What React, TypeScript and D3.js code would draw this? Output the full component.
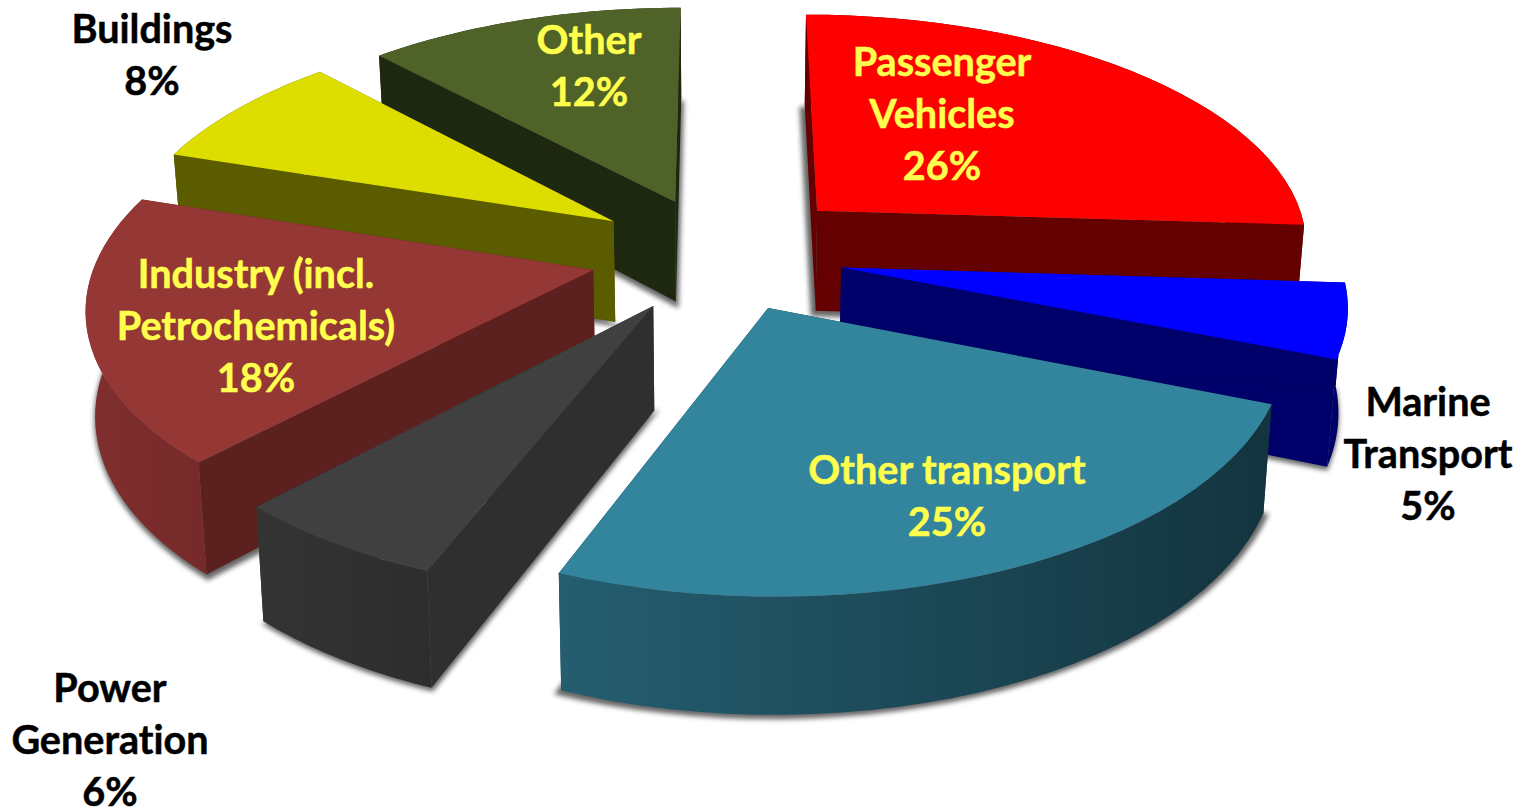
import React from "react";
import * as d3 from "d3";

// Share of each sector, clockwise from twelve o'clock.
const sectors = ["Passenger Vehicles", "Marine Transport", "Other transport", "Power Generation", "Industry", "Buildings", "Other"];
const shares = [26, 5, 25, 6, 18, 8, 12];

// Label lines for each sector.
const labelLines = [
  ["Passenger", "Vehicles", "26%"],
  ["Marine", "Transport", "5%"],
  ["Other transport", "25%"],
  ["Power", "Generation", "6%"],
  ["Industry (incl.", "Petrochemicals)", "18%"],
  ["Buildings", "8%"],
  ["Other", "12%"],
];

const WIDTH = 1529;
const HEIGHT = 809;

// Back-to-front paint order of the sectors.
const paintOrder = [0, 1, 2, 6, 5, 4, 3];

// Face colours per sector: top, radial walls, rim gradient ends.
const topColors = ["#fe0000", "#0000ff", "#33849d", "#404040", "#953735", "#dddd00", "#4f6228"];
const wallColors = ["#640000", "#00006a", "#143640", "#2f2f2f", "#5c201f", "#5b5b00", "#1e2710"];
const rimLeft = ["#640000", "#00006a", "#255e70", "#343434", "#7f2f2e", "#5b5b00", "#1e2710"];
const rimRight = ["#640000", "#00006a", "#13343e", "#2d2d2d", "#752a29", "#5b5b00", "#1e2710"];

// Label anchors: centre x and first baseline, with colour per sector.
const labelX = [942, 1428, 947, 110, 256, 152, 589];
const labelY = [76, 416, 484, 702, 288, 43, 54];
const labelColor = ["#ffff4d", "#000", "#ffff4d", "#000", "#ffff4d", "#000", "#ffff4d"];
const LINE_HEIGHT = 52;

// Camera model for the tilted disc.
const CX = 722;
const CY = 248.5;
const RADIUS_X = 494;
const RADIUS_Y = 232;
const PERSPECTIVE = 0.135;
const EXPLODE = 0.27;
const THICKNESS = 102;
const FOOT_SHRINK = 0.985;

// Small in-plane shift of each pulled-out sector.
const nudgeX = [0, -0.025, -0.017, 0.01, 0.004, 0.005, 0.002];
const nudgeY = [0.018, 0.022, 0, 0.012, 0.024, 0.025, 0.044];

type Pt = [number, number];

// Project a point of the disc plane (x right, y toward the viewer); z=1 is the underside.
function project(x: number, y: number, z: number): Pt {
  const w = 1 - PERSPECTIVE * y;
  const sx = (RADIUS_X * x) / w;
  const sy = (RADIUS_Y * y) / w;
  const depth = z * (THICKNESS / Math.pow(w, 0.8));
  const shrink = z ? FOOT_SHRINK : 1;
  return [CX + sx * shrink, CY + sy + depth];
}

const pie = d3.pie<number>().sort(null).startAngle(0).endAngle(2 * Math.PI);
const slices = pie(shares);
const polyline = d3.line<Pt>().curve(d3.curveLinearClosed);

interface SliceGeometry {
  top: Pt[];
  foot: Pt[];
  startWall: Pt[];
  endWall: Pt[];
  rim: Pt[];
  minX: number;
  maxX: number;
}

function buildSlice(startAngle: number, endAngle: number, i: number): SliceGeometry {
  const mid = (startAngle + endAngle) / 2;
  const ox = EXPLODE * Math.sin(mid) + nudgeX[i];
  const oy = -EXPLODE * Math.cos(mid) + nudgeY[i];
  const steps = d3.range(0, 33).map((k) => startAngle + ((endAngle - startAngle) * k) / 32);
  const outer = (a: number, z: number) => project(ox + Math.sin(a), oy - Math.cos(a), z);
  const arcTop = steps.map((a) => outer(a, 0));
  const arcFoot = steps.map((a) => outer(a, 1));
  const apexTop = project(ox, oy, 0);
  const apexFoot = project(ox, oy, 1);
  const xs = arcFoot.map((p) => p[0]).concat(arcTop.map((p) => p[0]));
  return {
    top: [apexTop, ...arcTop],
    foot: [apexFoot, ...arcFoot],
    startWall: [apexTop, arcTop[0], arcFoot[0], apexFoot],
    endWall: [apexTop, arcTop[32], arcFoot[32], apexFoot],
    rim: [...arcTop, ...arcFoot.slice().reverse()],
    minX: d3.min(xs) as number,
    maxX: d3.max(xs) as number,
  };
}

// Soft contact shadow: the underside grown slightly about its centre.
function shadowPoints(foot: Pt[]): Pt[] {
  const mx = d3.mean(foot, (p) => p[0]) as number;
  const my = d3.mean(foot, (p) => p[1]) as number;
  const sx = d3.scaleLinear().domain([mx, mx + 1]).range([mx, mx + 1.018]);
  const sy = d3.scaleLinear().domain([my, my + 1]).range([my + 3, my + 4.02]);
  return foot.map((p) => [sx(p[0]), sy(p[1])] as Pt);
}

const geometry = slices.map((s, i) => buildSlice(s.startAngle, s.endAngle, i));

export default function App() {
  return (
    <svg
      width={WIDTH}
      height={HEIGHT}
      viewBox={`0 0 ${WIDTH} ${HEIGHT}`}
      style={{ position: "absolute", left: 0, top: 0, background: "#fff" }}
    >
      <defs>
        <filter id="soft" x="-10%" y="-10%" width="120%" height="120%">
          <feGaussianBlur stdDeviation="2.6" />
        </filter>
        {geometry.map((g, i) => (
          <linearGradient key={i} id={`rim-${i}`} gradientUnits="userSpaceOnUse" x1={g.minX} x2={g.maxX} y1={0} y2={0}>
            <stop offset="0" stopColor={rimLeft[i]} />
            <stop offset="1" stopColor={rimRight[i]} />
          </linearGradient>
        ))}
      </defs>

      <g filter="url(#soft)" fill="#000" fillOpacity={0.6}>
        {geometry.map((g, i) => (
          <path key={sectors[i]} d={polyline(shadowPoints(g.foot)) as string} />
        ))}
      </g>

      {paintOrder.map((i) => {
        const g = geometry[i];
        return (
          <g key={sectors[i]}>
            <path d={polyline(g.endWall) as string} fill={wallColors[i]} />
            <path d={polyline(g.startWall) as string} fill={wallColors[i]} />
            <path d={polyline(g.rim) as string} fill={`url(#rim-${i})`} />
            <path d={polyline(g.top) as string} fill={topColors[i]} />
          </g>
        );
      })}

      <g
        fontFamily="Lato, sans-serif"
        fontWeight={700}
        fontSize={39.6}
        textAnchor="middle"
        strokeWidth={0.5}
        style={{ fontVariantLigatures: "none" }}
      >
        {labelLines.map((lines, i) => (
          <text key={sectors[i]} fill={labelColor[i]} stroke={labelColor[i]}>
            {lines.map((line, j) => (
              <tspan key={line} x={labelX[i]} y={labelY[i] + j * LINE_HEIGHT}>
                {line}
              </tspan>
            ))}
          </text>
        ))}
      </g>
    </svg>
  );
}
